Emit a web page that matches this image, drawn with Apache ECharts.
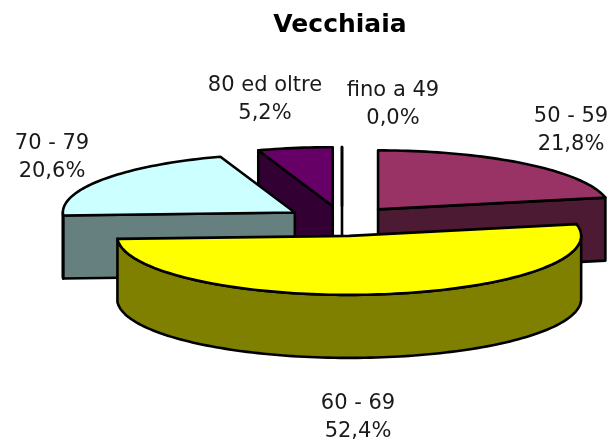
<!DOCTYPE html>
<html>
<head>
<meta charset="utf-8">
<style>html,body{margin:0;padding:0;background:#fff}#c{width:614px;height:441px}</style>
<script src="https://cdn.jsdelivr.net/npm/echarts@6/dist/echarts.min.js"></script>
</head>
<body>
<div id="c"></div>
<script>
const titleText = 'Vecchiaia';
const categories = ['fino a 49', '50 - 59', '60 - 69', '70 - 79', '80 ed oltre'];
const values = [0.0, 21.8, 52.4, 20.6, 5.2];
const topColors = ['#000000', '#993366', '#FFFF00', '#CCFFFF', '#660066'];
const sideColors = ['#000000', '#4C1A33', '#808000', '#668080', '#330033'];
const labelCenters = [[393, 105], [571, 131], [358, 418], [52, 158], [265, 100]];

const pie = { cx: 342, cy: 221, rx: 232, ry: 59, depth: 63, explodeX: 57, explodeY: 15 };
const total = values.reduce((a, b) => a + b, 0);
const rad = d => d * Math.PI / 180;
const formatPct = v => v.toFixed(1).replace('.', ',') + '%';

function renderSlice(params, api) {
  const i = params.dataIndex;
  const v = api.value(0);
  let before = 0;
  for (let k = 0; k < i; k++) before += values[k];
  const s = before / total * 360;
  const e = (before + v) / total * 360;
  const mid = (s + e) / 2;
  const ox = pie.cx + Math.sin(rad(mid)) * pie.explodeX;
  const oy = pie.cy - Math.cos(rad(mid)) * pie.explodeY;
  const pt = (a, d) => [ox + Math.sin(rad(a)) * pie.rx, oy - Math.cos(rad(a)) * pie.ry + (d || 0)];
  const arc = (a, b, d) => {
    const n = Math.max(2, Math.ceil(Math.abs(b - a) / 1.5));
    const out = [];
    for (let k = 0; k <= n; k++) out.push(pt(a + (b - a) * k / n, d));
    return out;
  };
  const base = Math.round(1000 * (1 - Math.cos(rad(mid))));
  const face = (points, fill, z) => ({
    type: 'polygon',
    z2: base + z,
    shape: { points },
    style: { fill, stroke: '#000', lineWidth: 2.6, lineJoin: 'round' }
  });
  const side = sideColors[i];
  const children = [];
  const apex = [ox, oy];
  const apexLow = [ox, oy + pie.depth];
  const cut = a => face([apex, pt(a), pt(a, pie.depth), apexLow], side, 0);
  if (Math.sin(rad(s)) < -1e-6 || v === 0) children.push(cut(s));
  if (Math.sin(rad(e)) > 1e-6) children.push(cut(e));
  const ws = Math.max(s, 90), we = Math.min(e, 270);
  if (we > ws) {
    children.push(face(arc(ws, we, 0).concat(arc(we, ws, pie.depth)), side, 0));
  }
  children.push(face([apex].concat(arc(s, e, 0)), topColors[i], 1));
  return { type: 'group', children };
}

const labelGraphics = categories.map((name, i) => ({
  type: 'text',
  x: labelCenters[i][0],
  y: labelCenters[i][1],
  z: 50,
  style: {
    text: name + '\n' + formatPct(values[i]),
    align: 'center',
    verticalAlign: 'middle',
    fill: '#1a1a1a',
    font: '21px "DejaVu Sans"',
    lineHeight: 28
  }
}));

const chart = echarts.init(document.getElementById('c'), null, { renderer: 'canvas' });
chart.setOption({
  animation: false,
  backgroundColor: '#ffffff',
  title: {
    text: titleText,
    left: 335,
    top: 8,
    textAlign: 'center',
    textStyle: { fontFamily: 'DejaVu Sans', fontWeight: 'bold', fontSize: 25, color: '#000' }
  },
  graphic: labelGraphics,
  series: [{
    type: 'custom',
    coordinateSystem: 'none',
    silent: true,
    renderItem: renderSlice,
    data: categories.map((name, i) => ({ name, value: [values[i]] }))
  }]
});
</script>
</body>
</html>
